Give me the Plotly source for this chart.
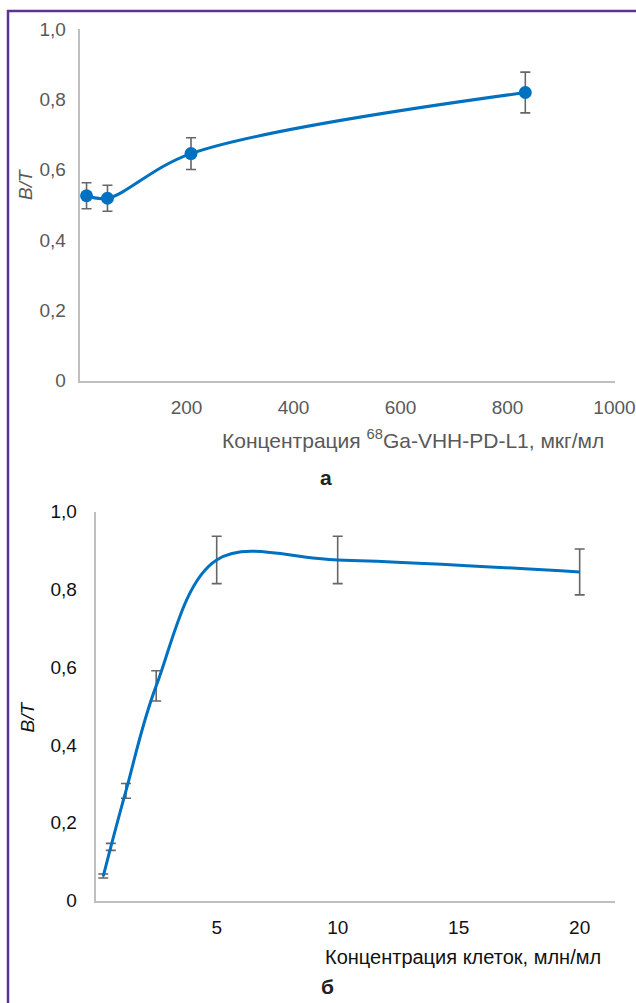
import plotly.graph_objects as go

W, H = 636, 1003

# ---- Data: panel "а" ----
conc_a = [13.0, 52.1, 208.3, 833.3]          # мкг/мл
bt_a = [0.526, 0.519, 0.646, 0.820]
err_a = [0.037, 0.037, 0.045, 0.058]

# ---- Data: panel "б" ----
cells_b = [0.3125, 0.625, 1.25, 2.5, 5, 10, 20]   # млн/мл
bt_b = [0.063, 0.138, 0.282, 0.552, 0.876, 0.876, 0.845]
err_b = [0.005, 0.009, 0.019, 0.039, 0.061, 0.061, 0.059]

# ---- Tick labels ----
y_tickvals = [0, 0.2, 0.4, 0.6, 0.8, 1.0]
y_ticktext = ["0", "0,2", "0,4", "0,6", "0,8", "1,0"]
xa_tickvals = [200, 400, 600, 800, 1000]
xa_ticktext = ["200", "400", "600", "800", "1000"]
xb_tickvals = [5, 10, 15, 20]
xb_ticktext = ["5", "10", "15", "20"]

BLUE = "#0070C0"
GRAY_AX = "#BFBFBF"
ERR = "#666666"
FONT = "Liberation Sans, Arial, sans-serif"
FS = 19
FT = 20


def px(x):
    return x / W


def py(y):
    return 1 - y / H


fig = go.Figure()

fig.add_trace(go.Scatter(
    x=conc_a, y=bt_a, xaxis="x", yaxis="y",
    mode="lines+markers",
    line=dict(color=BLUE, width=3, shape="spline", smoothing=1),
    marker=dict(color=BLUE, size=13),
    error_y=dict(type="data", array=err_a, visible=True, color=ERR,
                 thickness=1.6, width=5),
    showlegend=False,
))

fig.add_trace(go.Scatter(
    x=cells_b, y=bt_b, xaxis="x2", yaxis="y2",
    mode="lines",
    line=dict(color=BLUE, width=3, shape="spline", smoothing=1),
    error_y=dict(type="data", array=err_b, visible=True, color=ERR,
                 thickness=1.6, width=5),
    showlegend=False,
))

axis_common = dict(showgrid=False, zeroline=False, showline=True,
                   linecolor=GRAY_AX, linewidth=2, ticks="",
                   automargin=False, fixedrange=True)

fig.update_layout(
    width=W, height=H,
    margin=dict(l=0, r=0, t=0, b=0),
    paper_bgcolor="white", plot_bgcolor="white",
    font=dict(family=FONT, size=FS),
    xaxis=dict(domain=[px(79.6), px(615)], range=[0, 1001], anchor="y",
               tickvals=xa_tickvals, ticktext=xa_ticktext,
               tickfont=dict(color="#595959", size=FS),
               ticklabelstandoff=9, **axis_common),
    yaxis=dict(domain=[py(380.5), py(29.3)], range=[0, 1], anchor="x",
               tickvals=y_tickvals, ticktext=y_ticktext,
               tickfont=dict(color="#595959", size=FS),
               ticklabelstandoff=8, **axis_common),
    xaxis2=dict(domain=[px(95.7), px(615)], range=[0, 21.46], anchor="y2",
                tickvals=xb_tickvals, ticktext=xb_ticktext,
                tickfont=dict(color="#111111", size=FS),
                ticklabelstandoff=9, **axis_common),
    yaxis2=dict(domain=[py(900.5), py(511.7)], range=[0, 1], anchor="x2",
                tickvals=y_tickvals, ticktext=y_ticktext,
                tickfont=dict(color="#111111", size=FS),
                ticklabelstandoff=13, **axis_common),
)

annotations = [
    dict(text="<i>B/T</i>", x=px(26), y=py(185), textangle=-90,
         font=dict(color="#595959", size=FS)),
    dict(text="Концентрация <sup>68</sup>Ga-VHH-PD-L1, мкг/мл",
         x=px(413), y=py(439), font=dict(color="#595959", size=21)),
    dict(text="<b>а</b>", x=px(325.7), y=py(477.5),
         font=dict(color="#222222", size=21)),
    dict(text="<i>B/T</i>", x=px(27), y=py(717.5), textangle=-90,
         font=dict(color="#111111", size=FS)),
    dict(text="Концентрация клеток, млн/мл",
         x=px(463), y=py(957), font=dict(color="#111111", size=FT)),
    dict(text="<b>б</b>", x=px(327.5), y=py(986),
         font=dict(color="#222222", size=21)),
]
for a in annotations:
    a.update(xref="paper", yref="paper", showarrow=False,
             xanchor="center", yanchor="middle")
fig.update_layout(annotations=annotations)

PURPLE = "#5E3293"
fig.update_layout(shapes=[
    dict(type="line", xref="paper", yref="paper",
         x0=px(7), x1=1, y0=py(11), y1=py(11),
         line=dict(color=PURPLE, width=2.5)),
    dict(type="line", xref="paper", yref="paper",
         x0=px(8), x1=px(8), y0=py(10), y1=0,
         line=dict(color=PURPLE, width=2.5)),
])

fig.write_html("out.html")
